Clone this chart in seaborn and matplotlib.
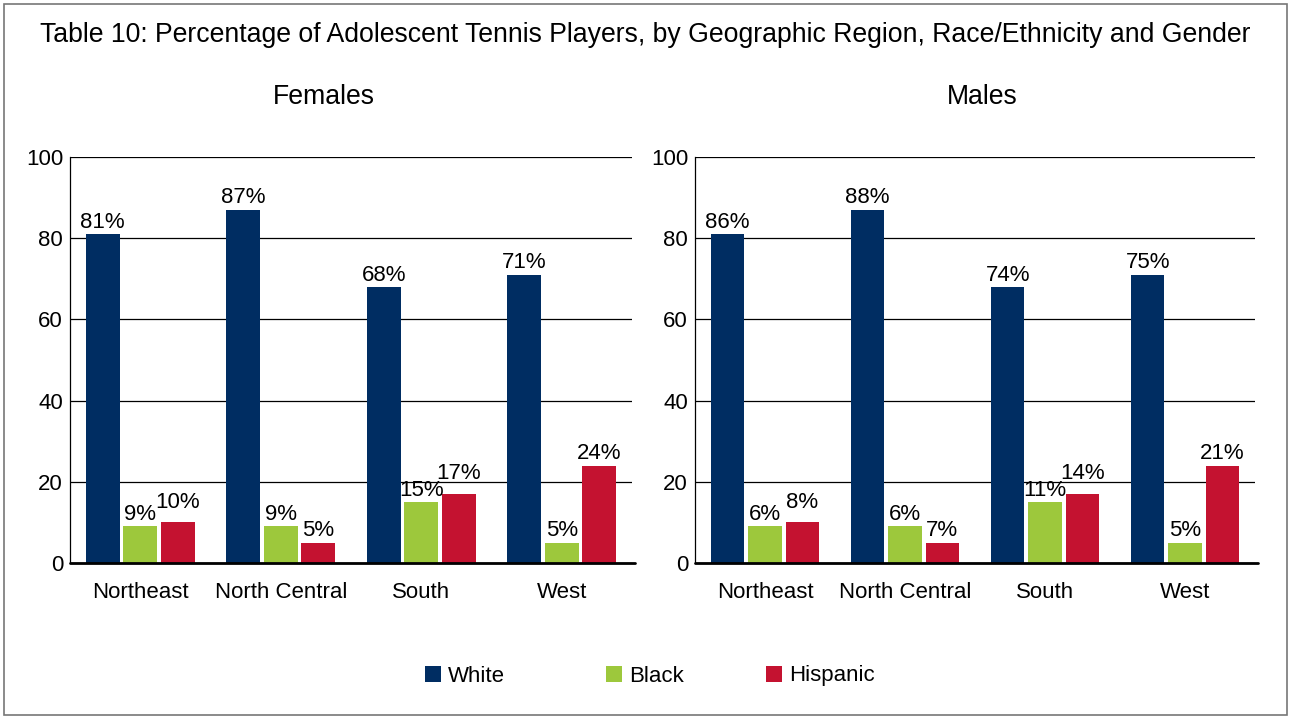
import matplotlib
matplotlib.use("Agg")
import matplotlib.pyplot as plt
from matplotlib.patches import Patch, Rectangle
import pandas as pd
import seaborn as sns

# data
regions = ["Northeast", "North Central", "South", "West"]
races = ["White", "Black", "Hispanic"]

female_white = [81, 87, 68, 71]
female_black = [9, 9, 15, 5]
female_hispanic = [10, 5, 17, 24]

# the male panel in the source reuses the female bar heights,
# only the printed labels differ
male_white = [81, 87, 68, 71]
male_black = [9, 9, 15, 5]
male_hispanic = [10, 5, 17, 24]

female_labels = [["81%", "87%", "68%", "71%"],
                 ["9%", "9%", "15%", "5%"],
                 ["10%", "5%", "17%", "24%"]]
male_labels = [["86%", "88%", "74%", "75%"],
               ["6%", "6%", "11%", "5%"],
               ["8%", "7%", "14%", "21%"]]

colors = ["#002D62", "#9DC83C", "#C41230"]
yticks = [0, 20, 40, 60, 80, 100]


def long_frame(white, black, hispanic):
    rows = []
    for race, vals in zip(races, [white, black, hispanic]):
        for reg, v in zip(regions, vals):
            rows.append({"region": reg, "race": race, "pct": v})
    return pd.DataFrame(rows)


sns.set_theme(style="white")
plt.rcParams["font.family"] = ["Liberation Sans", "DejaVu Sans"]
plt.rcParams["text.color"] = "black"
FS = 16
TFS = 19.2

fig = plt.figure(figsize=(12.91, 7.17), dpi=100)
ax_f = fig.add_axes([70 / 1291, 1 - 563 / 717, 562 / 1291, 406 / 717])
ax_m = fig.add_axes([695 / 1291, 1 - 563 / 717, 560 / 1291, 406 / 717])

panels = [(ax_f, long_frame(female_white, female_black, female_hispanic), female_labels),
          (ax_m, long_frame(male_white, male_black, male_hispanic), male_labels)]

for ax, df, labels in panels:
    sns.barplot(data=df, x="region", y="pct", hue="race", order=regions,
                hue_order=races, palette=colors, saturation=1, width=0.8,
                gap=0.1, linewidth=0, errorbar=None, legend=False, ax=ax)
    ax.set_ylim(0, 100)
    ax.set_xlim(-0.5, 3.5)
    ax.set_yticks(yticks)
    ax.set_xlabel("")
    ax.set_ylabel("")
    ax.yaxis.grid(True, color="black", linewidth=0.9)
    ax.set_axisbelow(True)
    ax.tick_params(axis="y", length=0, pad=5, labelsize=FS, labelcolor="black")
    ax.tick_params(axis="x", length=0, pad=14, labelsize=FS, labelcolor="black")
    for side in ["top", "right", "bottom"]:
        ax.spines[side].set_visible(False)
    ax.spines["left"].set_color("black")
    ax.spines["left"].set_linewidth(0.9)
    # heavy base line, running a little past the last gridline
    ax.axhline(0, xmin=0, xmax=1.006, color="black", linewidth=2.0,
               clip_on=False, zorder=5)

    for i, cont in enumerate(ax.containers):
        anns = ax.bar_label(cont, labels=labels[i], padding=1, fontsize=FS,
                            color="black")
        # the label of the taller of two neighbouring bars is lifted
        # in the source so it does not collide
        if i == 2:
            prev = ax.containers[1]
            for j, a in enumerate(anns):
                hb = prev[j].get_height()
                hh = cont[j].get_height()
                if 0 < hh - hb <= 3:
                    a.xyann = (0, 7)

fig.text(0.5, 1 - 35 / 717, "Table 10: Percentage of Adolescent Tennis Players, by Geographic Region, "
         "Race/Ethnicity and Gender", ha="center", va="center", fontsize=TFS)
fig.text(324 / 1291, 1 - 97 / 717, "Females", ha="center", va="center", fontsize=TFS)
fig.text(982 / 1291, 1 - 97 / 717, "Males", ha="center", va="center", fontsize=TFS)

# legend entries sit at fixed spots in the source, so one legend each
legend_x = [425, 606, 766]
for c, r, lx in zip(colors, races, legend_x):
    h = Patch(facecolor=c, edgecolor="none", label=r)
    fig.legend(handles=[h], loc="center left", bbox_to_anchor=(lx / 1291, 1 - 676 / 717),
               frameon=False, fontsize=FS, handlelength=0.72, handleheight=0.72,
               handletextpad=0.3, borderpad=0, borderaxespad=0, labelcolor="black")

fig.patches.append(Rectangle((4 / 1291, 2 / 717), 1283 / 1291, 711 / 717,
                             transform=fig.transFigure, fill=False,
                             edgecolor="#777777", linewidth=1.2))

fig.savefig("out.png", dpi=100)
